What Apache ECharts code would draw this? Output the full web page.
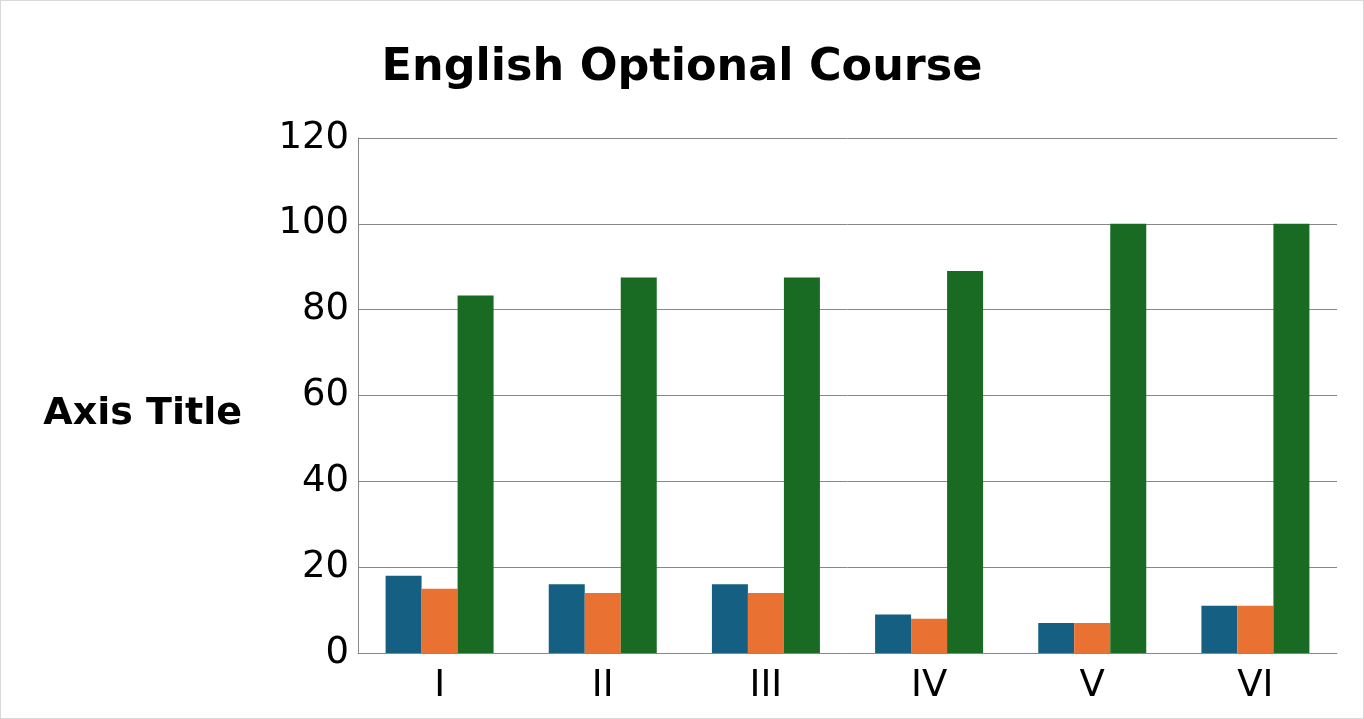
<!DOCTYPE html>
<html>
<head>
<meta charset="utf-8">
<script src="https://cdn.jsdelivr.net/npm/echarts@6/dist/echarts.min.js"></script>
<style>
  html, body { margin: 0; padding: 0; background: #fff; }
  #chart { width: 1364px; height: 719px; box-sizing: border-box; border: 1px solid #d9d9d9; }
</style>
</head>
<body>
<div id="chart"></div>
<script>
const categories = ['I', 'II', 'III', 'IV', 'V', 'VI'];
const seriesA = [18, 16, 16, 9, 7, 11];
const seriesB = [15, 14, 14, 8, 7, 11];
const seriesC = [83.3, 87.5, 87.5, 89, 100, 100];
const yTicks = { min: 0, max: 120, interval: 20 };

const chart = echarts.init(document.getElementById('chart'));
const font = 'DejaVu Sans';

const option = {
  animation: false,
  title: {
    text: 'English Optional Course',
    left: 'center',
    top: 40,
    textStyle: { fontFamily: font, fontSize: 44.5, fontWeight: 'bold', color: '#000' }
  },
  grid: { left: 357, right: 26, top: 137, bottom: 65, containLabel: false },
  xAxis: {
    type: 'category',
    data: categories,
    axisLine: { lineStyle: { color: '#888', width: 1 } },
    axisTick: { show: false },
    axisLabel: { fontFamily: font, fontSize: 37, color: '#000', margin: 15 }
  },
  yAxis: {
    type: 'value',
    min: yTicks.min,
    max: yTicks.max,
    interval: yTicks.interval,
    name: 'Axis Title',
    nameLocation: 'middle',
    nameRotate: 0,
    nameGap: 116,
    nameTextStyle: { fontFamily: font, fontSize: 38, fontWeight: 'bold', color: '#000', verticalAlign: 'top' },
    axisLine: { show: true, lineStyle: { color: '#888', width: 1 } },
    axisTick: { show: false },
    splitLine: { lineStyle: { color: '#888', width: 1 } },
    axisLabel: { fontFamily: font, fontSize: 37, color: '#000', margin: 9 }
  },
  series: [
    { name: 'A', type: 'bar', data: seriesA, barWidth: 36, barGap: '0%', itemStyle: { color: '#156082' } },
    { name: 'B', type: 'bar', data: seriesB, barWidth: 36, barGap: '0%', itemStyle: { color: '#E97132' } },
    { name: 'C', type: 'bar', data: seriesC, barWidth: 36, barGap: '0%', itemStyle: { color: '#196B24' } }
  ]
};

chart.setOption(option);
</script>
</body>
</html>
